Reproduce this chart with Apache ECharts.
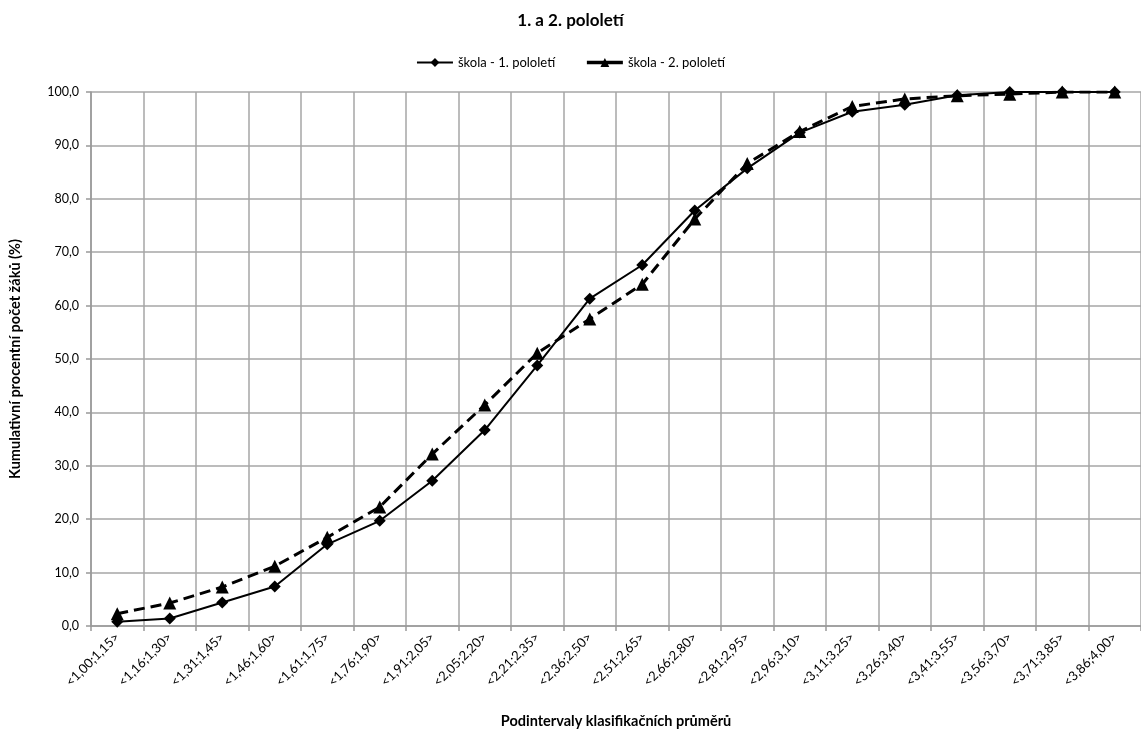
<!DOCTYPE html>
<html><head><meta charset="utf-8">
<script src="https://cdn.jsdelivr.net/npm/echarts@6/dist/echarts.min.js"></script>
<style>html,body{margin:0;padding:0;background:#fff}#c{width:1141px;height:734px}</style>
</head><body><div id="c"></div>
<script>
const categories = ["<1,00;1,15>","<1,16;1,30>","<1,31;1,45>","<1,46;1,60>","<1,61;1,75>","<1,76;1,90>","<1,91;2,05>","<2,05;2,20>","<2,21;2,35>","<2,36;2,50>","<2,51;2,65>","<2,66;2,80>","<2,81;2,95>","<2,96;3,10>","<3,11;3,25>","<3,26;3,40>","<3,41;3,55>","<3,56;3,70>","<3,71;3,85>","<3,86;4,00>"];
const sem1 = [0.8, 1.4, 4.4, 7.4, 15.3, 19.7, 27.2, 36.7, 48.8, 61.3, 67.6, 77.8, 85.7, 92.4, 96.3, 97.6, 99.4, 100, 100, 100];
const sem2 = [2.3, 4.3, 7.3, 11.2, 16.6, 22.3, 32.2, 41.4, 51.1, 57.5, 64.0, 76.2, 86.6, 92.6, 97.3, 98.7, 99.3, 99.6, 100, 100];
const seriesNames = ["škola - 1. pololetí", "škola - 2. pololetí"];
const titleText = "1. a 2. pololetí";
const xName = "Podintervaly klasifikačních průměrů";
const yName = "Kumulativní procentní počet žáků (%)";

const FONT = "Lato, 'Open Sans', sans-serif";
const chart = echarts.init(document.getElementById('c'));
chart.setOption({
  animation: false,
  textStyle: {fontFamily: FONT, color: '#000'},
  title: {text: titleText, left: 'center', top: 7,
    textStyle: {fontFamily: FONT, fontSize: 17, fontWeight: 'bold', color: '#000'}},
  legend: {top: 51, left: 'center', itemWidth: 36, itemHeight: 11, itemGap: 30,
    textStyle: {fontFamily: FONT, fontSize: 13, color: '#000'},
    data: [
      {name: seriesNames[0]},
      {name: seriesNames[1], lineStyle: {type: 'solid', width: 3.5}}
    ]},
  grid: {left: 85, right: 0, top: 92, bottom: 106, containLabel: false},
  xAxis: {type: 'category', data: categories, boundaryGap: true,
    name: xName, nameLocation: 'middle', nameGap: 88,
    nameTextStyle: {fontFamily: FONT, fontSize: 14.5, fontWeight: 'bold', color: '#000'},
    axisLine: {lineStyle: {color: '#999', width: 1.5}},
    axisTick: {show: true, length: 5, lineStyle: {color: '#999', width: 1.5}},
    axisLabel: {rotate: 45, interval: 0, fontSize: 13, color: '#000', margin: 9, fontFamily: FONT},
    splitLine: {show: true, interval: 0, lineStyle: {color: '#a6a6a6', width: 1.5}}},
  yAxis: {type: 'value', min: 0, max: 100, interval: 10,
    name: yName, nameLocation: 'middle', nameGap: 68,
    nameTextStyle: {fontFamily: FONT, fontSize: 14.5, fontWeight: 'bold', color: '#000'},
    axisLine: {show: true, lineStyle: {color: '#999', width: 1.5}},
    axisTick: {show: true, length: 5, lineStyle: {color: '#999', width: 1.5}},
    axisLabel: {fontSize: 12.5, color: '#000', margin: 12, fontFamily: FONT,
      formatter: v => v.toFixed(1).replace('.', ',')},
    splitLine: {show: true, lineStyle: {color: '#a6a6a6', width: 1.5}}},
  series: [
    {name: seriesNames[0], type: 'line', data: sem1, symbol: 'diamond', symbolSize: 12,
      itemStyle: {color: '#000'}, lineStyle: {color: '#000', width: 2}, z: 2},
    {name: seriesNames[1], type: 'line', data: sem2, symbol: 'triangle', symbolSize: 13,
      itemStyle: {color: '#000'}, lineStyle: {color: '#000', width: 3, type: [11, 6]}, z: 3}
  ]
});
</script></body></html>
